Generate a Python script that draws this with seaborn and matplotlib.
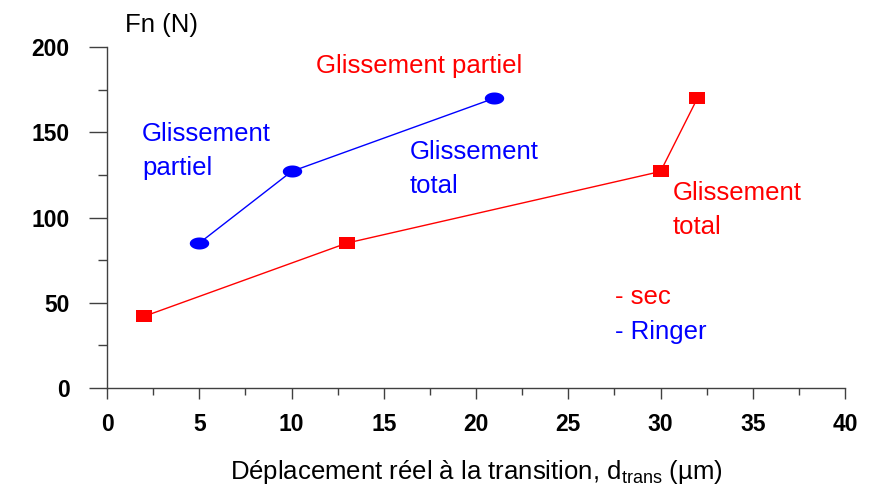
import numpy as np
import matplotlib
matplotlib.use("Agg")
import matplotlib.pyplot as plt
from matplotlib.path import Path
from matplotlib.ticker import MultipleLocator
import seaborn as sns
import pandas as pd

# Ringer (lubricated) contact
ringer_d = [5, 10, 21]
ringer_fn = [85, 127, 170]

# dry contact
sec_d = [2, 13, 30, 32]
sec_fn = [42, 85, 127, 170]

x_ticks = [0, 5, 10, 15, 20, 25, 30, 35, 40]
y_ticks = [0, 50, 100, 150, 200]

sns.set_theme(style="ticks")
plt.rcParams['font.family'] = ['Liberation Sans', 'DejaVu Sans']

fig = plt.figure(figsize=(8.73, 4.86), dpi=100)
ax = fig.add_axes([0.1226, 0.2016, 0.968 - 0.1226, 0.9033 - 0.2016])

# elliptical and rectangular markers
t = np.linspace(0, 2 * np.pi, 40)
ellipse = Path(np.column_stack([np.cos(t), 0.62 * np.sin(t)]), closed=True)
rect = Path([(-1, -0.72), (1, -0.72), (1, 0.72), (-1, 0.72), (-1, -0.72)], closed=True)

df_r = pd.DataFrame({"d": ringer_d, "fn": ringer_fn})
df_s = pd.DataFrame({"d": sec_d, "fn": sec_fn})

sns.lineplot(data=df_s, x="d", y="fn", ax=ax, color="#ff0000", lw=1.0,
             marker=rect, markersize=12, markeredgewidth=0, sort=False)
sns.lineplot(data=df_r, x="d", y="fn", ax=ax, color="#0000ff", lw=1.0,
             marker=ellipse, markersize=14, markeredgewidth=0, sort=False)

ax.set_xlim(0, 40)
ax.set_ylim(0, 200)
ax.set_xticks(x_ticks)
ax.set_yticks(y_ticks)
ax.xaxis.set_minor_locator(MultipleLocator(2.5))
ax.yaxis.set_minor_locator(MultipleLocator(25))

for s in ("top", "right"):
    ax.spines[s].set_visible(False)
for s in ("left", "bottom"):
    ax.spines[s].set_color("#404040")
    ax.spines[s].set_linewidth(1.0)

ax.tick_params(axis="y", which="major", length=13, width=1, color="#404040", pad=14)
ax.tick_params(axis="y", which="minor", length=6.5, width=1, color="#404040")
ax.tick_params(axis="x", which="major", length=8, width=1, color="#404040", pad=10)
ax.tick_params(axis="x", which="minor", length=5, width=1, color="#404040")
for lab in ax.get_xticklabels() + ax.get_yticklabels():
    lab.set_fontweight("bold")
    lab.set_fontsize(16.5)
    lab.set_color("black")

ax.set_xlabel("Déplacement réel à la transition, d$_{\\mathregular{trans}}$ (µm)",
              fontsize=18.5, color="black", labelpad=16)
ax.set_ylabel("")

fs = 18.5
ls = 1.55
fig.text(125 / 873, 1 - 25 / 486, "Fn (N)", fontsize=fs, color="black", va="center")
fig.text(316 / 873, 1 - 66 / 486, "Glissement partiel",
         fontsize=fs, color="#ff0000", va="center")
fig.text(142 / 873, 1 - 151 / 486, "Glissement\npartiel", fontsize=fs, color="#0000ff",
         va="center", linespacing=ls)
fig.text(410 / 873, 1 - 169 / 486, "Glissement\ntotal", fontsize=fs, color="#0000ff",
         va="center", linespacing=ls)
fig.text(673 / 873, 1 - 210 / 486, "Glissement\ntotal", fontsize=fs, color="#ff0000",
         va="center", linespacing=ls)
fig.text(615 / 873, 1 - 297 / 486, "- sec", fontsize=fs, color="#ff0000", va="center")
fig.text(615 / 873, 1 - 332 / 486, "- Ringer", fontsize=fs, color="#0000ff", va="center")

fig.savefig("out.png", dpi=100, facecolor="white")
